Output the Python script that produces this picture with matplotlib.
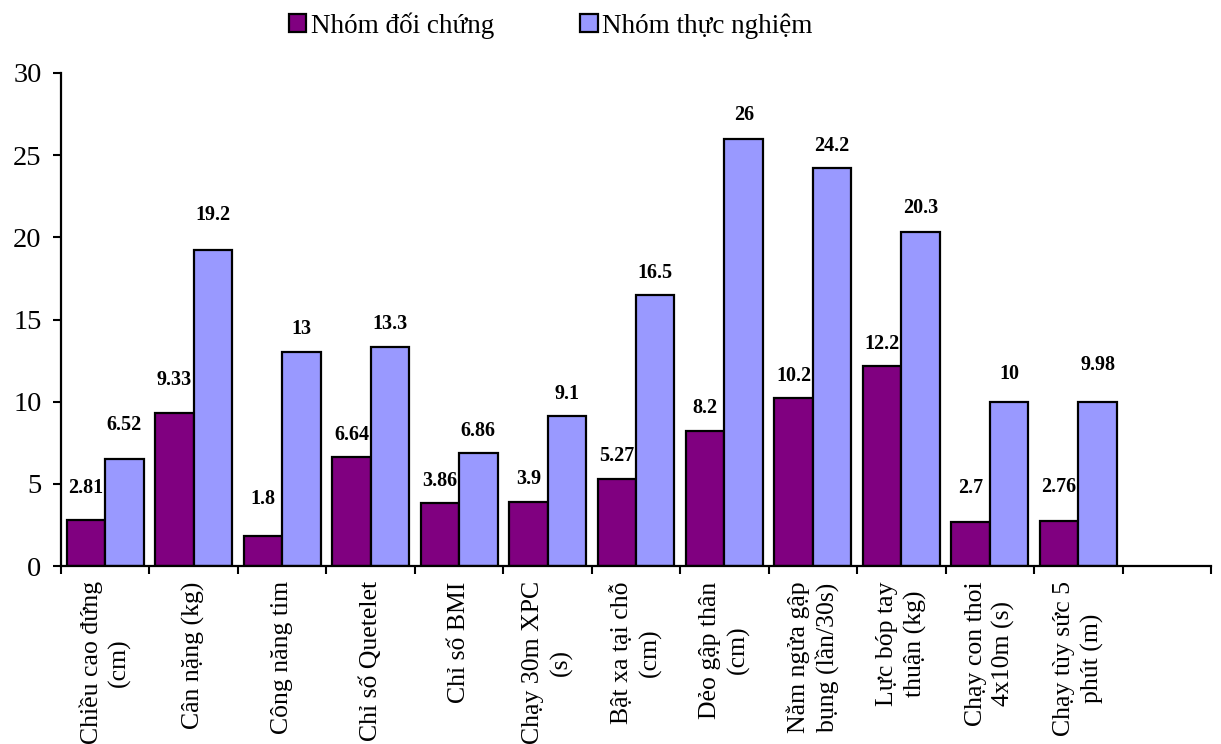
import numpy as np
import matplotlib
matplotlib.use("Agg")
import matplotlib.pyplot as plt

matplotlib.rc('font', family='Liberation Serif')
matplotlib.rcParams.update({'font.size': 19})

CATEGORIES = ["Chiều cao đứng\n(cm)", "Cân nặng (kg)", "Công năng tim",
        "Chỉ số Quetelet", "Chỉ số BMI", "Chạy 30m XPC\n(s)",
        "Bật xa tại chỗ\n(cm)", "Dẻo gập thân\n(cm)",
        "Nằm ngửa gập\nbụng (lần/30s)", "Lực bóp tay\nthuận (kg)",
        "Chạy con thoi\n4x10m (s)", "Chạy tùy sức 5\nphút (m)"]

CONTROL = [2.81, 9.33, 1.8, 6.64, 3.86, 3.9, 5.27, 8.2, 10.2, 12.2, 2.7, 2.76]
TREATED = [6.52, 19.2, 13, 13.3, 6.86, 9.1, 16.5, 26, 24.2, 20.3, 10, 9.98]

SERIES = ["Nhóm đối chứng", "Nhóm thực nghiệm"]
COLORS = ["#800080", "#9999FF"]

# label offsets above the bar tops, in pixels
CONTROL_OFF = [32, 33, 37, 22, 22, 23, 23, 23, 22, 22, 34, 34]
TREATED_OFF = [34, 35, 23, 23, 22, 22, 22, 24, 22, 24, 28, 37]

NSLOTS = len(CATEGORIES) + 1


def fmt(v):
	return ("%g" % v)


if __name__ == "__main__":

	fig = plt.figure(figsize=(12.21, 7.44), dpi=100)
	ax = fig.add_axes([61 / 1221., 1 - 566 / 744., 1150 / 1221., 493 / 744.])

	ind = np.arange(len(CATEGORIES)) + 0.5
	width = 0.435

	rects = []
	for i, (vals, offs) in enumerate(((CONTROL, CONTROL_OFF), (TREATED, TREATED_OFF))):
		x = ind + (i - 0.5) * width
		r = ax.bar(x, vals, width, color=COLORS[i], edgecolor="black",
				linewidth=1.6, label=SERIES[i], zorder=2)
		rects.append(r)
		for xi, v, o in zip(x, vals, offs):
			ax.annotate(fmt(v), (xi, v), xytext=(0, o),
					textcoords="offset pixels", ha="center", va="center",
					fontsize=14.5, fontweight="bold")

	ax.set_xlim(0, NSLOTS)
	ax.set_ylim(0, 30)
	ax.set_yticks(np.arange(0, 31, 5))

	ax.set_xticks(np.arange(NSLOTS + 1))
	ax.set_xticklabels([])
	ax.set_xticks(ind, minor=True)
	ax.set_xticklabels(CATEGORIES, minor=True, rotation=90, ha="center",
			va="top", multialignment="center", fontsize=18.5, linespacing=1.3)
	ax.tick_params(axis="x", which="minor", length=0, pad=11)
	ax.tick_params(axis="x", which="major", length=6, width=1.5, direction="out")
	ax.tick_params(axis="y", length=6, width=1.5, direction="out", pad=8,
			labelsize=20.5)

	for s in ("top", "right"):
		ax.spines[s].set_visible(False)
	for s in ("left", "bottom"):
		ax.spines[s].set_linewidth(1.6)

	fig.legend(rects, SERIES, loc="center", bbox_to_anchor=(0.451, 0.966),
			ncol=2, frameon=False, fontsize=19.5, handlelength=0.65,
			handleheight=0.65, handletextpad=0.15, columnspacing=3.2)

	fig.savefig("out.png", dpi=100)
	plt.close()
